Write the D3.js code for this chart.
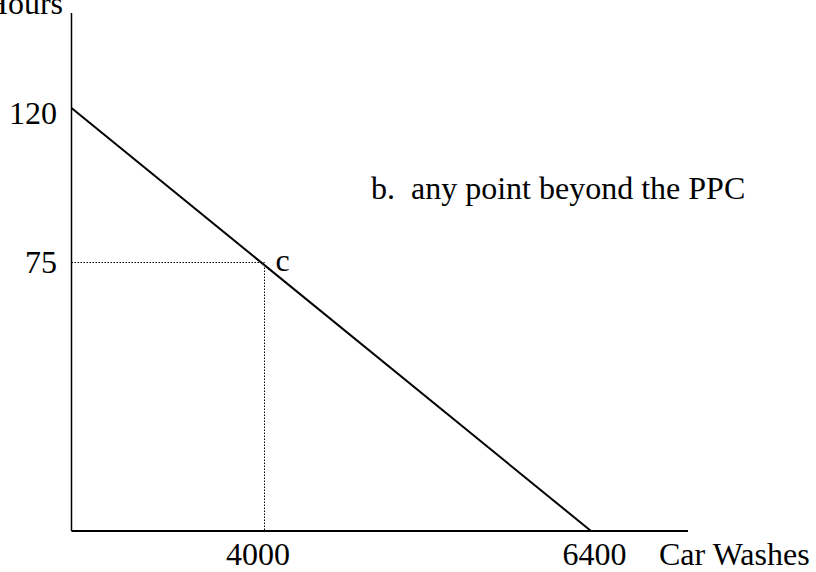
<!DOCTYPE html>
<html>
<head>
<meta charset="utf-8">
<script src="https://cdn.jsdelivr.net/npm/d3@7"></script>
<style>
  html, body { margin: 0; padding: 0; background: #fff; }
  svg text { font-family: "Liberation Serif", "Times New Roman", serif; fill: #000; }
</style>
</head>
<body>
<svg id="chart" width="816" height="572"></svg>
<script>
// values
const xTicks = [4000, 6400];
const yTicks = [75, 120];
const ppcLine = [{ cw: 0, hours: 120 }, { cw: 6400, hours: 0 }];
const pointC = { cw: 4000, hours: 75, label: "c" };
const note = "b.  any point beyond the PPC";

const svg = d3.select("#chart");
const fontSize = 32;

// the sketch is not drawn to scale, so the scales are pinned at the labelled values
const x = d3.scaleLinear().domain([0, 4000, 6400]).range([71.5, 264.5, 591]);
const y = d3.scaleLinear().domain([0, 75, 120]).range([531, 262.5, 108]);

// axes (plain lines, no tick marks)
svg.append("line")
    .attr("x1", 71.5).attr("x2", 71.5)
    .attr("y1", 13).attr("y2", y(0))
    .attr("stroke", "#000").attr("stroke-width", 1.5);

svg.append("line")
    .attr("x1", 71.5).attr("x2", 688)
    .attr("y1", y(0)).attr("y2", y(0))
    .attr("stroke", "#000").attr("stroke-width", 2);

const xAxis = d3.axisBottom(x).tickValues(xTicks).tickSize(0).tickPadding(0).tickFormat(d3.format("d"));
const gx = svg.append("g").attr("transform", `translate(0,${y(0)})`).call(xAxis);
gx.select(".domain").remove();
gx.selectAll("text")
    .attr("y", 34).attr("dy", 0)
    .attr("dx", d => d === 4000 ? -7 : 3)
    .style("font-size", fontSize + "px");

const yAxis = d3.axisLeft(y).tickValues(yTicks).tickSize(0).tickPadding(0).tickFormat(d3.format("d"));
const gy = svg.append("g").attr("transform", "translate(57,0)").call(yAxis);
gy.select(".domain").remove();
gy.selectAll("text")
    .attr("x", 0)
    .attr("dy", d => d === 120 ? 15 : 10)
    .style("font-size", fontSize + "px");

// axis titles
svg.append("text")
    .attr("x", 63).attr("y", 14)
    .attr("text-anchor", "end")
    .style("font-size", fontSize + "px")
    .text("Hours");

svg.append("text")
    .attr("x", 659).attr("y", 565)
    .style("font-size", fontSize + "px")
    .text("Car Washes");

// dotted guides to point c
svg.append("path")
    .attr("d", `M${x(0)},${y(pointC.hours)}H${x(pointC.cw)}V${y(0)}`)
    .attr("fill", "none")
    .attr("stroke", "#000")
    .attr("stroke-width", 1)
    .attr("stroke-dasharray", "1.5,1.5");

// production possibilities curve
const line = d3.line().x(d => x(d.cw)).y(d => y(d.hours));
svg.append("path")
    .datum(ppcLine)
    .attr("d", line)
    .attr("fill", "none")
    .attr("stroke", "#000")
    .attr("stroke-width", 2);

svg.append("text")
    .attr("x", x(pointC.cw) + 11).attr("y", y(pointC.hours) + 8)
    .style("font-size", fontSize + "px")
    .text(pointC.label);

svg.append("text")
    .attr("x", 371).attr("y", 199)
    .attr("xml:space", "preserve")
    .style("white-space", "pre")
    .style("font-size", fontSize + "px")
    .text(note);
</script>
</body>
</html>
